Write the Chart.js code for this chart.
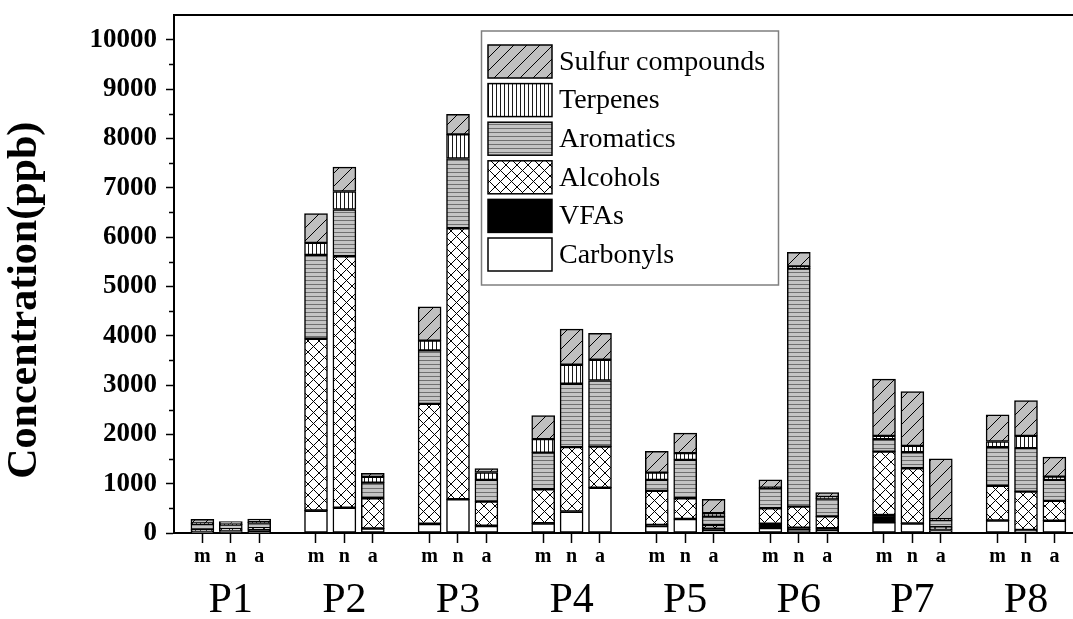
<!DOCTYPE html>
<html>
<head>
<meta charset="utf-8">
<title>Concentration by site</title>
<script src="https://cdn.jsdelivr.net/npm/chart.js@4.4.1/dist/chart.umd.min.js"></script>
<style>
    html, body { margin: 0; padding: 0; background: #fff; }
    #wrap { width: 1073px; height: 619px; }
</style>
</head>
<body>
<div id="wrap"><canvas id="chart" width="1073" height="619"></canvas></div>
<script>

// sites and the three samples (m, n, a) taken at each one
var sites = ['P1', 'P2', 'P3', 'P4', 'P5', 'P6', 'P7', 'P8'];
var samples = ['m', 'n', 'a'];

// ppb, one value per bar: P1 m,n,a, P2 m,n,a ... P8 m,n,a
var carbonyls = [20, 30, 20, 450, 510, 90, 180, 680, 140, 190, 430, 915, 140, 280, 60, 100, 70, 40, 217, 190, 50, 250, 40, 245];
var vfas      = [20, 30, 60, 10, 5, 5, 10, 5, 10, 8, 5, 5, 25, 5, 30, 90, 40, 60, 148, 6, 30, 5, 20, 5];
var alcohols  = [30, 20, 20, 3478, 5094, 609, 2429, 5493, 486, 689, 1305, 832, 688, 419, 72, 311, 424, 237, 1286, 1117, 40, 699, 779, 400];
var aromatics = [110, 90, 110, 1699, 948, 318, 1082, 1414, 440, 743, 1285, 1340, 223, 778, 169, 404, 4825, 359, 251, 324, 140, 786, 880, 426];
var terpenes  = [15, 10, 10, 244, 365, 115, 197, 488, 151, 272, 385, 420, 149, 136, 69, 15, 47, 34, 67, 129, 18, 114, 250, 67];
var sulfur    = [80, 50, 60, 595, 494, 75, 684, 406, 81, 480, 724, 534, 433, 406, 284, 156, 284, 89, 1151, 1103, 1224, 541, 717, 394];

var yTicks = [0, 1000, 2000, 3000, 4000, 5000, 6000, 7000, 8000, 9000, 10000];
var yMinorTicks = [500, 1500, 2500, 3500, 4500, 5500, 6500, 7500, 8500, 9500];

var SERIF = "'Liberation Serif', 'Times New Roman', serif";

/**
 * makePattern
 * @param  {number} size
 * @param  {string} bg
 * @param  {function} draw
 * @return {CanvasPattern}
 */
function makePattern(size, bg, draw) {
    var c = document.createElement('canvas'), ctx;
    c.width = size;
    c.height = size;
    ctx = c.getContext('2d');
    ctx.fillStyle = bg;
    ctx.fillRect(0, 0, size, size);
    draw(ctx, size);
    return ctx.createPattern(c, 'repeat');
}

var fills = {
    carbonyls: '#ffffff',
    vfas: '#000000',
    alcohols: makePattern(11, '#ffffff', function (ctx, s) {
        ctx.strokeStyle = '#000';
        ctx.lineWidth = 1;
        ctx.beginPath();
        ctx.moveTo(0, 0); ctx.lineTo(s, s);
        ctx.moveTo(0, s); ctx.lineTo(s, 0);
        ctx.stroke();
    }),
    aromatics: makePattern(4, '#c4c4c4', function (ctx, s) {
        ctx.strokeStyle = '#707070';
        ctx.lineWidth = 1;
        ctx.beginPath();
        ctx.moveTo(0, 0.5); ctx.lineTo(s, 0.5);
        ctx.stroke();
    }),
    terpenes: makePattern(4, '#ffffff', function (ctx, s) {
        ctx.strokeStyle = '#1a1a1a';
        ctx.lineWidth = 1;
        ctx.beginPath();
        ctx.moveTo(0.5, 0); ctx.lineTo(0.5, s);
        ctx.stroke();
    }),
    sulfur: makePattern(13, '#c0c0c0', function (ctx, s) {
        ctx.strokeStyle = '#000';
        ctx.lineWidth = 1;
        ctx.beginPath();
        ctx.moveTo(0, s); ctx.lineTo(s, 0);
        ctx.moveTo(-1, 1); ctx.lineTo(1, -1);
        ctx.moveTo(s - 1, s + 1); ctx.lineTo(s + 1, s - 1);
        ctx.stroke();
    })
};

// bar slot on the linear x axis: three bars then one empty slot per site
var barX = [], barLabels = [], siteX = [];
sites.forEach(function (site, g) {
    samples.forEach(function (s, j) {
        barX.push(g * 4 + j + 1);
        barLabels.push(s);
    });
    siteX.push(g * 4 + 2);
});
var X_MAX = 31.62;

function points(values) {
    return values.map(function (v, i) { return { x: barX[i], y: v }; });
}

function series(label, values, fill) {
    return {
        label: label,
        data: points(values),
        backgroundColor: fill,
        borderColor: '#000',
        borderWidth: 1.5,
        borderSkipped: false,
        barThickness: 23,
        stack: 'all'
    };
}

var datasets = [
    series('Carbonyls', carbonyls, fills.carbonyls),
    series('VFAs', vfas, fills.vfas),
    series('Alcohols', alcohols, fills.alcohols),
    series('Aromatics', aromatics, fills.aromatics),
    series('Terpenes', terpenes, fills.terpenes),
    series('Sulfur compounds', sulfur, fills.sulfur)
];

// legend box sits inside the plot, drawn from the datasets (top entry = last dataset)
var legendBox = { left: 481.5, top: 31, width: 297, height: 254, swatchX: 488, swatchW: 64, swatchH: 33, firstY: 45, step: 38.6, textX: 559 };

var boxLegend = {
    id: 'boxLegend',
    afterDraw: function (chart) {
        var ctx = chart.ctx, b = legendBox, list = chart.data.datasets.slice().reverse();
        ctx.save();
        ctx.strokeStyle = '#7f7f7f';
        ctx.lineWidth = 1.5;
        ctx.strokeRect(b.left, b.top, b.width, b.height);
        ctx.font = '28px ' + SERIF;
        ctx.textBaseline = 'middle';
        ctx.textAlign = 'left';
        list.forEach(function (ds, i) {
            var y = b.firstY + i * b.step;
            ctx.fillStyle = ds.backgroundColor;
            ctx.fillRect(b.swatchX, y, b.swatchW, b.swatchH);
            ctx.strokeStyle = '#000';
            ctx.lineWidth = 1.5;
            ctx.strokeRect(b.swatchX, y, b.swatchW, b.swatchH);
            ctx.fillStyle = '#000';
            ctx.fillText(ds.label, b.textX, y + b.swatchH / 2 + 1);
        });
        ctx.restore();
    }
};

// short minor ticks on the y axis
var minorTicks = {
    id: 'minorTicks',
    afterDraw: function (chart) {
        var ctx = chart.ctx, y = chart.scales.y;
        ctx.save();
        ctx.strokeStyle = '#000';
        ctx.lineWidth = 1.5;
        ctx.beginPath();
        yMinorTicks.forEach(function (v) {
            var py = Math.round(y.getPixelForValue(v)) + 0.5;
            ctx.moveTo(y.right - 5, py);
            ctx.lineTo(y.right, py);
        });
        ctx.stroke();
        ctx.restore();
    }
};

new Chart(document.getElementById('chart'), {
    type: 'bar',
    data: { datasets: datasets },
    plugins: [boxLegend, minorTicks],
    options: {
        responsive: false,
        animation: false,
        layout: { padding: { right: 1 } },
        plugins: {
            legend: { display: false },
            tooltip: { enabled: false }
        },
        scales: {
            x: {
                type: 'linear',
                position: 'bottom',
                weight: 0,
                min: 0,
                max: X_MAX,
                offset: false,
                afterBuildTicks: function (s) {
                    s.ticks = barX.map(function (v) { return { value: v }; });
                },
                afterFit: function (s) {
                    s.height = 38;
                    s.paddingLeft = 0;
                    s.paddingRight = 0;
                },
                ticks: {
                    autoSkip: false,
                    maxRotation: 0,
                    padding: 2,
                    color: '#000',
                    font: { family: SERIF, size: 20, weight: 'bold' },
                    callback: function (v, i) { return barLabels[i]; }
                },
                grid: { offset: false, drawOnChartArea: false, tickLength: 10, tickColor: '#000', tickWidth: 1.5 },
                border: { display: true, color: '#000', width: 2 }
            },
            xSite: {
                type: 'linear',
                position: 'bottom',
                weight: 1,
                min: 0,
                max: X_MAX,
                offset: false,
                afterBuildTicks: function (s) {
                    s.ticks = siteX.map(function (v) { return { value: v }; });
                },
                afterFit: function (s) {
                    s.height = 48;
                    s.paddingLeft = 0;
                    s.paddingRight = 0;
                },
                ticks: {
                    autoSkip: false,
                    maxRotation: 0,
                    padding: 5,
                    color: '#000',
                    font: { family: SERIF, size: 42 },
                    callback: function (v, i) { return sites[i]; }
                },
                grid: { display: false, drawTicks: false },
                border: { display: false }
            },
            xTop: {
                type: 'linear',
                position: 'top',
                min: 0,
                max: X_MAX,
                offset: false,
                afterFit: function (s) { s.height = 15; },
                ticks: { display: false },
                grid: { display: true, drawOnChartArea: false, drawTicks: false },
                border: { display: true, color: '#000', width: 2 }
            },
            y: {
                stacked: true,
                min: 0,
                max: 10500,
                afterBuildTicks: function (s) {
                    s.ticks = yTicks.map(function (v) { return { value: v }; });
                },
                afterFit: function (s) {
                    s.width = 174;
                    // labels never reach the ends of the axis, so no extra room is needed
                    s.paddingTop = 0;
                    s.paddingBottom = 0;
                },
                ticks: {
                    padding: 9,
                    color: '#000',
                    font: { family: SERIF, size: 27, weight: 'bold' },
                    callback: function (v) { return String(v); }
                },
                grid: { drawOnChartArea: false, tickLength: 8, tickColor: '#000', tickWidth: 1.5 },
                border: { display: true, color: '#000', width: 2 },
                title: {
                    display: true,
                    // trailing spaces push the centred title down to where the original sits
                    text: 'Concentration(ppb)\u00a0\u00a0\u00a0\u00a0\u00a0',
                    color: '#000',
                    padding: 0,
                    font: { family: SERIF, size: 42, weight: 'bold' }
                }
            }
        }
    }
});
</script>
</body>
</html>
